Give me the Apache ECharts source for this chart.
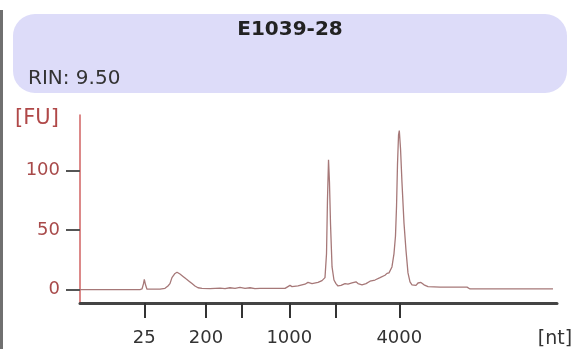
<!DOCTYPE html>
<html>
<head>
<meta charset="utf-8">
<script src="https://cdn.jsdelivr.net/npm/echarts@6/dist/echarts.min.js"></script>
<style>
html,body{margin:0;padding:0;background:#fff;}
#chart{width:580px;height:349px;}
</style>
</head>
<body>
<div id="chart"></div>
<script>
// Migration time (s) and fluorescence (FU)
const migrationTime = [19.00,25.29,25.50,25.66,25.74,25.87,26.02,27.39,27.91,28.22,28.43,28.64,28.96,29.17,29.48,29.80,30.11,30.43,30.74,31.05,31.37,31.79,32.63,33.68,34.20,34.72,35.25,35.77,36.30,36.82,37.34,37.87,38.92,40.49,40.80,41.01,41.22,41.85,42.58,42.90,43.32,43.95,44.37,44.68,44.84,44.94,45.05,45.15,45.26,45.42,45.62,45.83,46.04,46.36,46.78,47.09,47.51,47.93,48.14,48.56,48.98,49.40,49.92,50.45,50.97,51.18,51.39,51.70,51.91,52.07,52.18,52.28,52.39,52.47,52.60,52.75,52.96,53.17,53.38,53.59,53.80,54.22,54.43,54.74,55.06,55.48,56.74,58.31,59.57,59.88,68.58];
const fluorescence  = [0,0,0.5,5,8.6,4,0.3,0.3,1.0,3,5,10,13.5,14.5,13,11,9,7,5,3,1.5,1,0.8,1.2,0.8,1.5,1,1.8,1,1.5,0.8,1,1,1,2.5,3.5,2.5,3,4.5,6,5,6,7.5,10,30,75,109,90,55,19,8,5,3,3.5,5,4.5,5.5,6.5,5,4,5,7,8,10,12,13.6,14,19,30,45,70,105,130,133.5,118,90,56,33,14,6.5,4,3.5,5.5,6,4,2.5,2,2,2,0.5,0.5];

// Ladder positions (s) and their labels
const ladderTimes  = [25.74, 32.2, 35.95, 40.94, 45.8, 52.47];
const ladderLabels = ['25', '200', '', '1000', '', '4000'];

// Y ticks
const fuTicks = [0, 50, 100];

const sampleName = 'E1039-28';
const rinText = 'RIN: 9.50';

const chart = echarts.init(document.getElementById('chart'), null, {renderer: 'canvas'});
const data = migrationTime.map((t, i) => [t, fluorescence[i]]);
const FONT = 'DejaVu Sans';

chart.setOption({
  animation: false,
  backgroundColor: '#ffffff',
  grid: {left: 80, right: 23, top: 115, bottom: 46, containLabel: false, outerBoundsMode: 'none'},
  xAxis: {
    type: 'value', min: 19, max: 69,
    axisLine: {onZero: false, lineStyle: {color: '#444', width: 3}},
    axisTick: {show: true, customValues: ladderTimes, length: 15, lineStyle: {color: '#333', width: 2}},
    axisLabel: {
      customValues: ladderTimes, margin: 26, fontFamily: FONT, fontSize: 18, color: '#333',
      formatter: v => { let k = 0, d = 1e9; ladderTimes.forEach((t,i)=>{ if (Math.abs(t-v)<d){d=Math.abs(t-v);k=i;} }); return ladderLabels[k]; }
    },
    splitLine: {show: false}
  },
  yAxis: {
    type: 'value', min: -11.3, max: 146.6,
    axisLine: {show: true, lineStyle: {color: '#d06262', width: 1.5}},
    axisTick: {show: true, customValues: fuTicks, length: 14, lineStyle: {color: '#555', width: 2}},
    axisLabel: {customValues: fuTicks, margin: 20, fontFamily: FONT, fontSize: 18, color: '#a84a4a'},
    splitLine: {show: false}
  },
  series: [{
    type: 'line', data: data, showSymbol: false, smooth: false,
    lineStyle: {color: '#a67878', width: 1.3}
  }],
  graphic: [
    {type: 'rect', left: 0, top: 10, shape: {width: 3, height: 339}, style: {fill: '#707070'}},
    {type: 'rect', left: 13, top: 14, shape: {width: 554, height: 79, r: 22}, style: {fill: '#dddcf9'}},
    {type: 'text', x: 290, y: 30, style: {text: sampleName, fontFamily: FONT, fontWeight: 'bold', fontSize: 20, fill: '#222', align: 'center', verticalAlign: 'middle'}},
    {type: 'text', x: 28, y: 79, style: {text: rinText, fontFamily: FONT, fontSize: 20, fill: '#333', align: 'left', verticalAlign: 'middle'}},
    {type: 'text', x: 37, y: 119, style: {text: '[FU]', fontFamily: FONT, fontSize: 21, fill: '#b04848', align: 'center', verticalAlign: 'middle'}},
    {type: 'text', x: 555, y: 339, style: {text: '[nt]', fontFamily: FONT, fontSize: 19, fill: '#333', align: 'center', verticalAlign: 'middle'}}
  ]
});
</script>
</body>
</html>
